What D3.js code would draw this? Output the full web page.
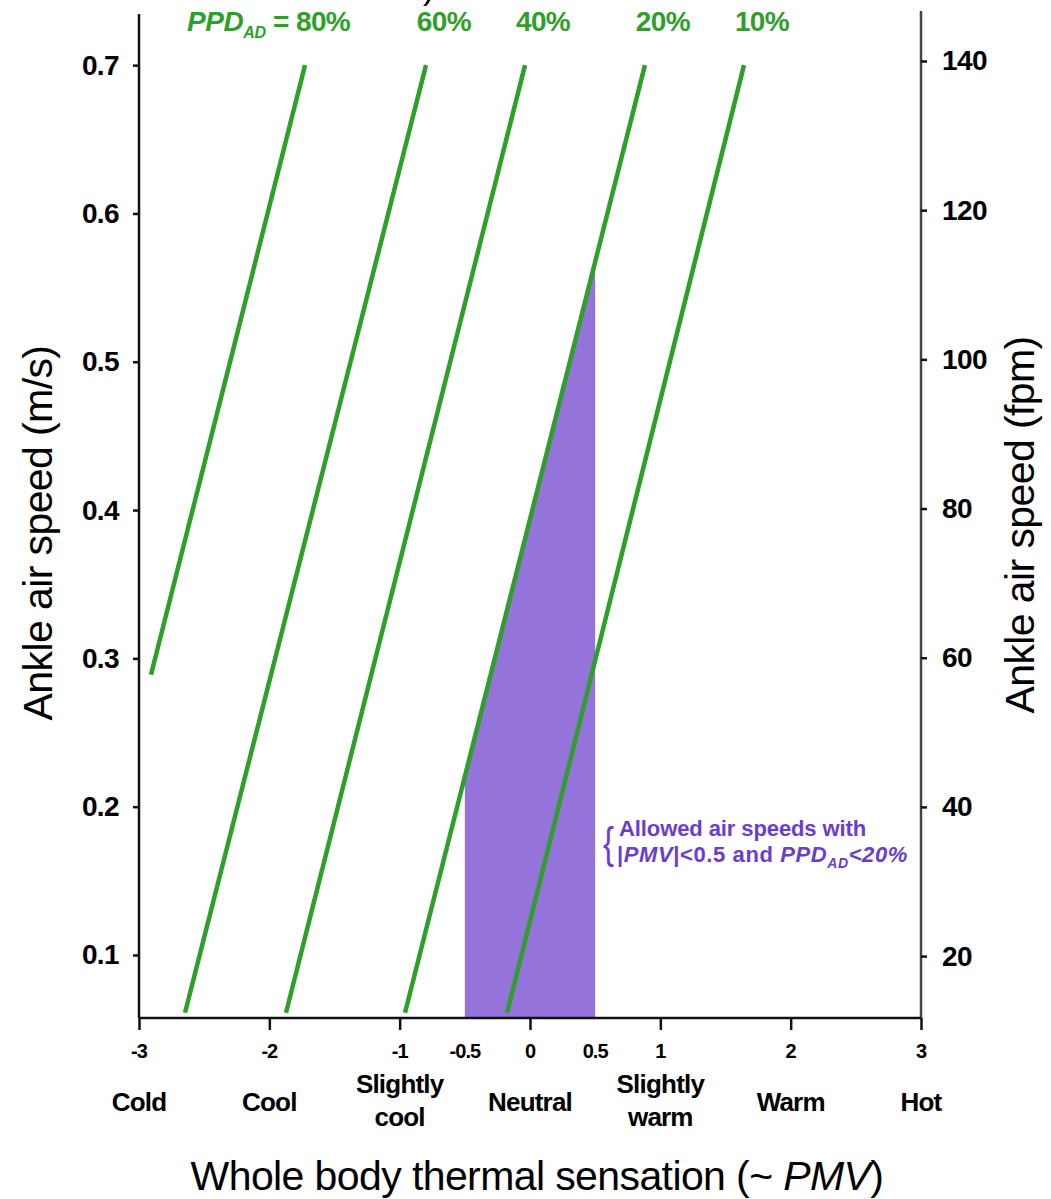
<!DOCTYPE html>
<html><head><meta charset="utf-8">
<script src="https://cdn.jsdelivr.net/npm/d3@7"></script>
<style>
body{margin:0;background:#fff;}
text{font-family:"Liberation Sans",Arial,sans-serif;}
</style></head>
<body><svg id="chart" width="1051" height="1199"></svg>
<script>
// ---- data ----
const ppdLevels = ["80%", "60%", "40%", "20%", "10%"];
// endpoints [PMV, ankle air speed m/s]
const lineStartPMV = [-2.908, -2.647, -1.872, -0.959, -0.176];
const lineStartSpeed = [0.289, 0.061, 0.061, 0.061, 0.061];
const lineEndPMV = [-1.726, -0.798, -0.038, 0.882, 1.642];
const lineEndSpeed = [0.70, 0.70, 0.70, 0.70, 0.70];
const allowedPMV = [-0.5, 0.5];
const allowedLevel = "20%";
const xTicks = [-3, -2, -1, 0, 1, 2, 3];
const xTickLabels = [-3, -2, -1, -0.5, 0, 0.5, 1, 2, 3];
const sensationLabels = [["Cold"], ["Cool"], ["Slightly", "cool"], ["Neutral"], ["Slightly", "warm"], ["Warm"], ["Hot"]];
const sensationPMV = [-3, -2, -1, 0, 1, 2, 3];
const leftTicks = [0.1, 0.2, 0.3, 0.4, 0.5, 0.6, 0.7];
const rightTicks = [20, 40, 60, 80, 100, 120, 140];

// ---- layout ----
const svg = d3.select("#chart");
const green = "#2e9f28", purpleFill = "#9473db", purpleText = "#6a3ccf";
const x = d3.scaleLinear().domain([-3, 3]).range([139, 921]);
const y = d3.scaleLinear().domain([0.0575, 0.7345]).range([1018, 14]);
const yR = d3.scaleLinear().domain([11.7, 146.3]).range([1018, 14]);

// allowed region: under the 20% line between PMV -0.5 and 0.5
const li = ppdLevels.indexOf(allowedLevel);
const interp = d3.scaleLinear().domain([lineStartPMV[li], lineEndPMV[li]]).range([lineStartSpeed[li], lineEndSpeed[li]]);
const poly = [[allowedPMV[0], y.domain()[0]], [allowedPMV[0], interp(allowedPMV[0])],
              [allowedPMV[1], interp(allowedPMV[1])], [allowedPMV[1], y.domain()[0]]];
svg.append("path").attr("d", d3.line().x(d => x(d[0])).y(d => y(d[1]))(poly) + "Z")
  .attr("fill", purpleFill);

// green lines
const lineGen = d3.line().x(d => x(d[0])).y(d => y(d[1]));
ppdLevels.forEach((lev, i) => {
  svg.append("path")
    .attr("d", lineGen([[lineStartPMV[i], lineStartSpeed[i]], [lineEndPMV[i], lineEndSpeed[i]]]))
    .attr("stroke", green).attr("stroke-width", 4.5).attr("fill", "none");
});

// green labels
ppdLevels.forEach((lev, i) => {
  const t = svg.append("text").attr("x", x(lineEndPMV[i]) + 18).attr("y", 31)
    .attr("text-anchor", "middle").attr("fill", green)
    .attr("font-size", 28).attr("font-weight", "bold").attr("letter-spacing", -0.6).text(lev);
  if (i === 0) {
    const bb = t.node().getBBox();
    const p = svg.append("text").attr("x", bb.x - 7).attr("y", 31).attr("text-anchor", "end")
      .attr("fill", green).attr("font-size", 28).attr("font-weight", "bold").attr("letter-spacing", -0.4);
    p.append("tspan").attr("font-style", "italic").text("PPD");
    p.append("tspan").attr("font-style", "italic").attr("font-size", 16).attr("dy", 7).text("AD");
    p.append("tspan").attr("dy", -7).text(" =");
  }
});

// cut-off title glyph at top
svg.append("text").attr("x", 423).attr("y", -1).attr("font-size", 34).attr("fill", "#000").text(")");

// axes
const axisColor = "#111";
const left = svg.append("g").attr("transform", `translate(${x(-3)},0)`)
  .call(d3.axisLeft(y).tickValues(leftTicks).tickSize(6).tickPadding(14).tickFormat(d3.format(".1f")));
const right = svg.append("g").attr("transform", `translate(${x(3)},0)`)
  .call(d3.axisRight(yR).tickValues(rightTicks).tickSize(6).tickPadding(15).tickFormat(d3.format("d")));
const bottom = svg.append("g").attr("transform", `translate(0,${y(y.domain()[0])})`)
  .call(d3.axisBottom(x).tickValues(xTicks).tickSize(12).tickFormat(""));
[left, right, bottom].forEach(g => {
  g.select(".domain").attr("stroke", axisColor).attr("stroke-width", 2.5);
  g.selectAll(".tick line").attr("stroke", axisColor).attr("stroke-width", 2.5);
  g.selectAll(".tick text").attr("fill", "#000").attr("font-size", 28).attr("font-weight", "bold")
    .attr("letter-spacing", -0.6).attr("font-family", "Liberation Sans, Arial, sans-serif");
});
right.select(".domain").attr("stroke", "#444");
// replace domain to remove outer ticks
left.select(".domain").attr("d", `M0,${y.range()[1]}V${y.range()[0]}`);
right.select(".domain").attr("d", `M0,${y.range()[1] - 3}V${y.range()[0]}`);
bottom.select(".domain").attr("d", `M${x.range()[0]},0H${x.range()[1]}`);

// x tick labels
svg.append("g").selectAll("text").data(xTickLabels).join("text")
  .attr("x", d => x(d)).attr("y", 1058).attr("text-anchor", "middle")
  .attr("font-size", 20).attr("font-weight", "bold").attr("letter-spacing", -1).text(d => d);

// sensation labels
sensationLabels.forEach((lines, i) => {
  const t = svg.append("text").attr("text-anchor", "middle").attr("font-size", 26)
    .attr("font-weight", "bold").attr("letter-spacing", -0.8);
  if (lines.length === 1) {
    t.append("tspan").attr("x", x(sensationPMV[i])).attr("y", 1111).text(lines[0]);
  } else {
    t.append("tspan").attr("x", x(sensationPMV[i])).attr("y", 1093).text(lines[0]);
    t.append("tspan").attr("x", x(sensationPMV[i])).attr("y", 1126).text(lines[1]);
  }
});

// axis titles
svg.append("text").attr("transform", `translate(52,533) rotate(-90)`).attr("text-anchor", "middle")
  .attr("font-size", 41).attr("letter-spacing", -0.6).text("Ankle air speed (m/s)");
svg.append("text").attr("transform", `translate(1034,525) rotate(-90)`).attr("text-anchor", "middle")
  .attr("font-size", 41).attr("letter-spacing", -0.6).text("Ankle air speed (fpm)");
const xt = svg.append("text").attr("x", 537).attr("y", 1190).attr("text-anchor", "middle")
  .attr("font-size", 41).attr("letter-spacing", -0.6);
xt.append("tspan").text("Whole body thermal sensation (~ ");
xt.append("tspan").attr("font-style", "italic").text("PMV");
xt.append("tspan").text(")");

// annotation
svg.append("text").attr("x", 603).attr("y", 858).attr("fill", purpleText)
  .attr("font-family", "DejaVu Sans").attr("font-size", 44).attr("textLength", 11)
  .attr("lengthAdjust", "spacingAndGlyphs").text("{");
svg.append("text").attr("x", 619).attr("y", 836).attr("fill", purpleText)
  .attr("font-size", 22).attr("font-weight", "bold").attr("letter-spacing", -0.1).text("Allowed air speeds with");
const a2 = svg.append("text").attr("x", 617).attr("y", 862).attr("fill", purpleText)
  .attr("font-size", 22).attr("font-weight", "bold").attr("letter-spacing", 0.6);
a2.append("tspan").text("|");
a2.append("tspan").attr("font-style", "italic").text("PMV");
a2.append("tspan").text("|<0.5 and ");
a2.append("tspan").attr("font-style", "italic").text("PPD");
a2.append("tspan").attr("font-style", "italic").attr("font-size", 14).attr("dy", 6).text("AD");
a2.append("tspan").attr("font-style", "italic").attr("dy", -6).text("<20%");
</script></body></html>
